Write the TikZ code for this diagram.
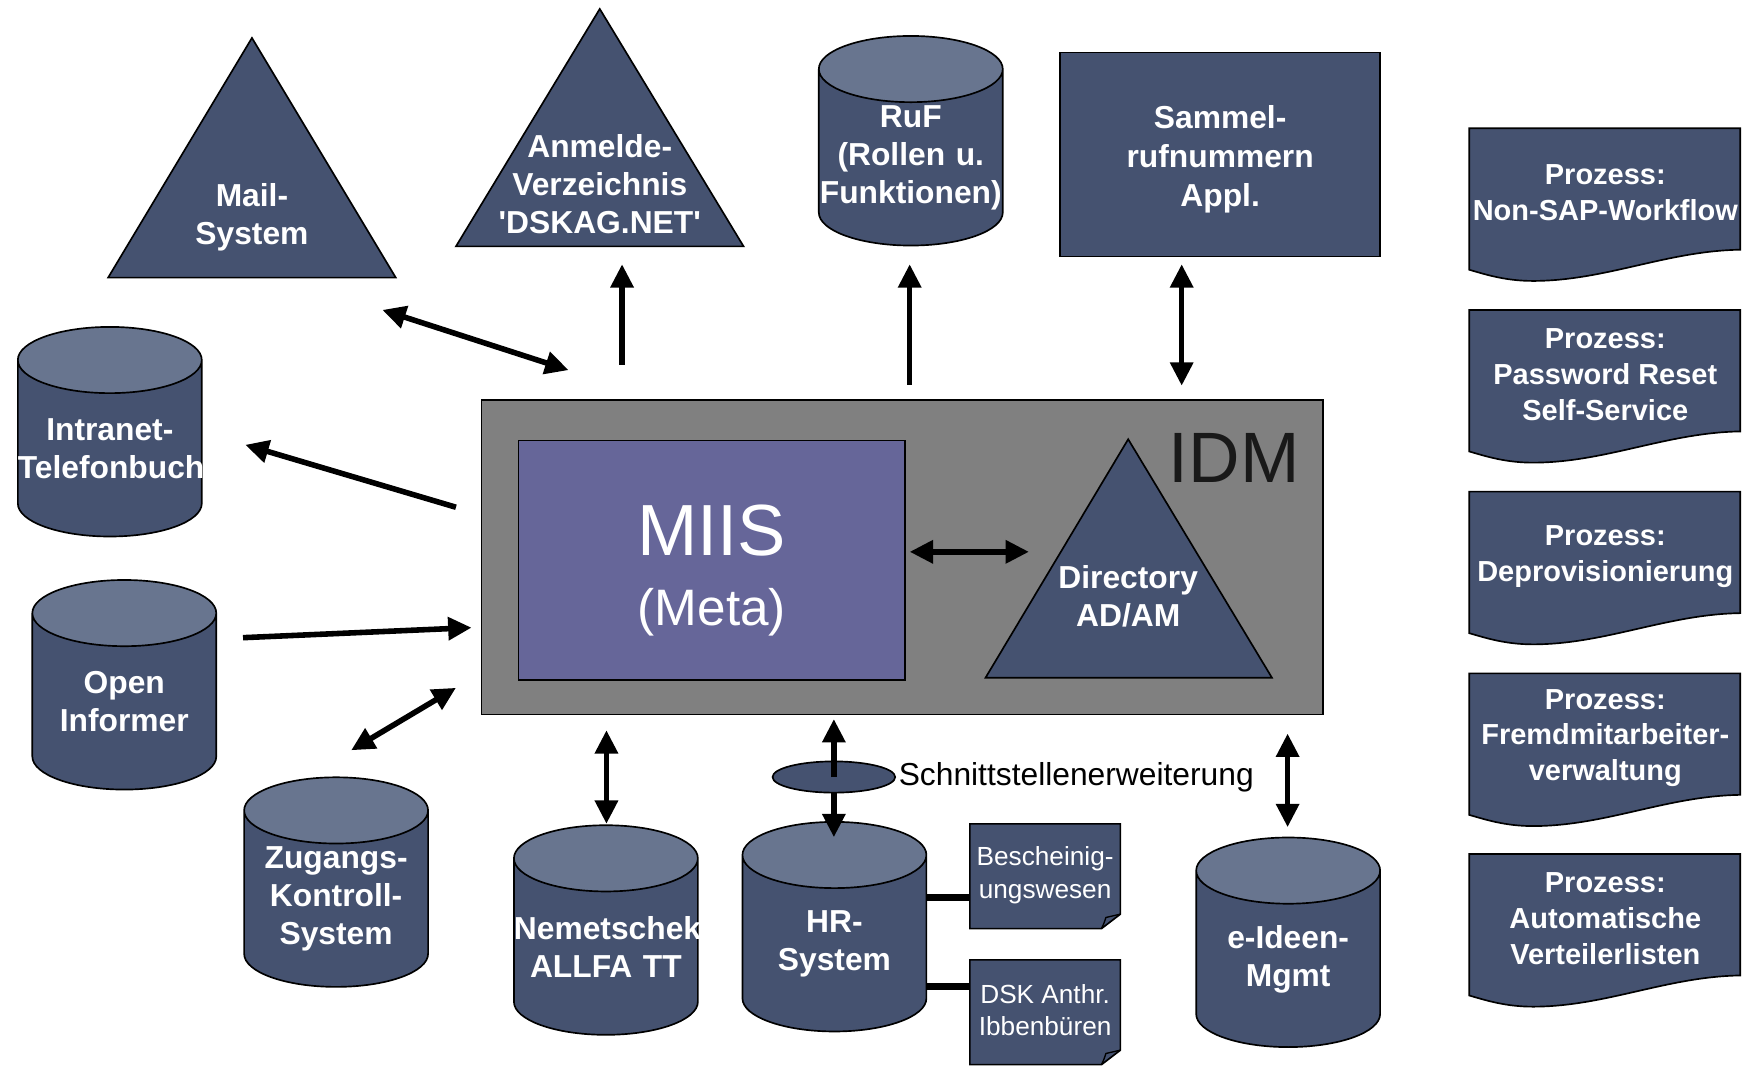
\documentclass[tikz,border=0pt]{standalone}
\usepackage{fontspec}
\setmainfont{Liberation Sans}
\usepackage{xcolor}
\usetikzlibrary{arrows.meta}
\usetikzlibrary{shapes.geometric}

\definecolor{boxblue}{RGB}{69,82,112}
\definecolor{topblue}{RGB}{104,117,143}
\definecolor{miisblue}{RGB}{102,102,153}
\definecolor{idmgrey}{RGB}{128,128,128}

\begin{document}
\begin{tikzpicture}[
    x=1pt, y=-1pt,
    >={Triangle[length=21pt, width=20pt]},
    db/.style={cylinder, shape border rotate=90, aspect=0.36, draw=black, line width=1.5pt,
        cylinder uses custom fill, cylinder body fill=boxblue, cylinder end fill=topblue,
        minimum width=165pt, minimum height=188pt, inner sep=0pt, text width=165pt,
        text=white, align=center, font=\bfseries\fontsize{28.5}{34}\selectfont},
    tri/.style={draw=black, line width=1.5pt, fill=boxblue},
    lbl/.style={text=white, align=center, inner sep=0pt, font=\bfseries\fontsize{28.5}{34}\selectfont},
    proz/.style={text=white, align=center, inner sep=0pt, font=\bfseries\fontsize{26}{32}\selectfont},
    paper/.style={draw=black, line width=1.5pt, fill=boxblue},
    conn/.style={line width=5pt},
    link/.style={line width=6pt}
]
\useasboundingbox (0,0) rectangle (1568,956);

% Nodes :
\draw[tri] (97,249) -- (355,249) -- (226,34) -- cycle;
\node[lbl] (mail) at (226,195) {Mail-\\System};
\draw[tri] (409,221) -- (667,221) -- (538,8) -- cycle;
\node[lbl] (anmelde) at (538,165) {Anmelde-\\Verzeichnis\\\textquotesingle DSKAG.NET\textquotesingle};
\node[db, anchor=south] (ruf) at (817,221) {RuF\\(Rollen u.\\Funktionen)};
\node[draw=black, line width=1.5pt, fill=boxblue, minimum width=287pt, minimum height=183pt] (sammel) at (1094.5,138.5) {};
\node[lbl, font=\bfseries\fontsize{28.5}{35}\selectfont] (sammellabel) at (1094.5,142.5) {Sammel-\\rufnummern\\Appl.};

\node[db, anchor=south] (intranet) at (98.5,482) {Intranet-\\Telefonbuch};
\node[db, anchor=south] (open) at (111.5,709) {Open\\Informer};
\node[db, anchor=south] (zugang) at (301.5,886) {Zugangs-\\Kontroll-\\System};
\node[db, anchor=south] (nemetschek) at (543.5,929) {Nemetschek\\ALLFA TT};
\node[db, anchor=south] (hr) at (748.5,926) {HR-\\System};
\node[db, anchor=south] (ideen) at (1155.5,940) {e-Ideen-\\Mgmt};

% IDM block :
\node[draw=black, line width=1.5pt, fill=idmgrey, minimum width=755pt, minimum height=282pt] (idm) at (809.5,500) {};
\node[anchor=base east, inner sep=0pt, text=black!90, font=\fontsize{64}{70}\selectfont] (idmlabel) at (1166,433) {IDM};
\node[draw=black, line width=1.5pt, fill=miisblue, minimum width=347pt, minimum height=215pt] (miis) at (638.5,502.5) {};
\node[text=white, align=center, inner sep=0pt, font=\fontsize{65}{63}\selectfont] (miislabel) at (638.5,511.5)
    {MIIS\\{\fontsize{46}{63}\selectfont (Meta)}};
\draw[tri] (884,608) -- (1141,608) -- (1012,394) -- cycle;
\node[lbl] (dir) at (1012,534.5) {Directory\\AD/AM};

% Interface :
\node[ellipse, draw=black, line width=1.5pt, fill=boxblue, minimum width=110pt, minimum height=28pt, inner sep=0pt] (schnitt) at (748,697) {};
\node[anchor=west, inner sep=0pt, font=\fontsize{28.5}{34}\selectfont] (schnittlabel) at (806,697) {Schnittstellenerweiterung};

\draw[paper] (870,739) -- (1005,739) -- (1005,820) -- (988,833) -- (870,833) -- cycle;
\draw[line width=1.2pt] (988,833) .. controls (990,829) .. (992,823) -- (1005,820);
\node[minimum width=135pt, minimum height=94pt, inner sep=0pt, text=white, align=center,
    font=\fontsize{23.5}{29}\selectfont] (besch) at (937.5,785) {Bescheinig-\\ungswesen};
\draw[paper] (870,861) -- (1005,861) -- (1005,942) -- (988,955) -- (870,955) -- cycle;
\draw[line width=1.2pt] (988,955) .. controls (990,951) .. (992,945) -- (1005,942);
\node[minimum width=135pt, minimum height=94pt, inner sep=0pt, text=white, align=center,
    font=\fontsize{23.5}{29}\selectfont] (dsk) at (937.5,906) {DSK Anthr.\\Ibbenb\"uren};

% Processes :
\foreach \y/\pname/\txt in {115/nonsap/{Prozess:\\Non-SAP-Workflow},
    278/pwreset/{Prozess:\\Password Reset\\Self-Service},
    441/deprov/{Prozess:\\Deprovisionierung},
    604/fremd/{Prozess:\\Fremdmitarbeiter-\\verwaltung},
    766/verteiler/{Prozess:\\Automatische\\Verteilerlisten}}
{
    \draw[paper] (1318,\y) -- (1561,\y) -- (1561,\y+109)
        .. controls (1495,\y+110) and (1440,\y+137) .. (1375,\y+137)
        .. controls (1350,\y+137) and (1332,\y+131) .. (1318,\y+127) -- cycle;
    \node[proz] (\pname) at (1440,\y+58) {\txt};
}

% Arrow ends :
\coordinate (mailend) at (343,278);
\coordinate (mailidm) at (510,332);
\coordinate (anmeldeidm) at (558,327);
\coordinate (anmeldeend) at (558,237);
\coordinate (rufidm) at (816,345);
\coordinate (rufend) at (816,237);
\coordinate (sammelend) at (1060,237);
\coordinate (sammelidm) at (1060,346);
\coordinate (intraidm) at (409,455);
\coordinate (intraend) at (220,399);
\coordinate (openend) at (218,572);
\coordinate (openidm) at (423,563);
\coordinate (zugangend) at (315,673);
\coordinate (zugangidm) at (409,617);
\coordinate (nemidm) at (544,655);
\coordinate (nemend) at (544,739);
\coordinate (hridm) at (748,645);
\coordinate (hrend) at (748,751);
\coordinate (ideenidm) at (1155,658);
\coordinate (ideenend) at (1155,742);
\coordinate (miisdir) at (816,495);
\coordinate (dirmiis) at (923,495);

% Edges :
\draw[conn, <->] (mailend) -- (mailidm);
\draw[conn, ->] (anmeldeidm) -- (anmeldeend);
\draw[conn, ->] (rufidm) -- (rufend);
\draw[conn, <->] (sammelend) -- (sammelidm);
\draw[conn, ->] (intraidm) -- (intraend);
\draw[conn, ->] (openend) -- (openidm);
\draw[conn, <->] (zugangend) -- (zugangidm);
\draw[conn, <->] (nemidm) -- (nemend);
\draw[conn, ->] (schnitt.center) -- (hridm);
\draw[conn, ->] (schnitt.south) -- (hrend);
\draw[conn, <->] (ideenidm) -- (ideenend);
\draw[conn, <->] (miisdir) -- (dirmiis);

\draw[link] ([yshift=-20pt]besch.west) -- ([yshift=-20pt]besch.west -| hr.east);
\draw[link] ([yshift=21pt]dsk.west) -- ([yshift=21pt]dsk.west -| hr.east);

\end{tikzpicture}
\end{document}
